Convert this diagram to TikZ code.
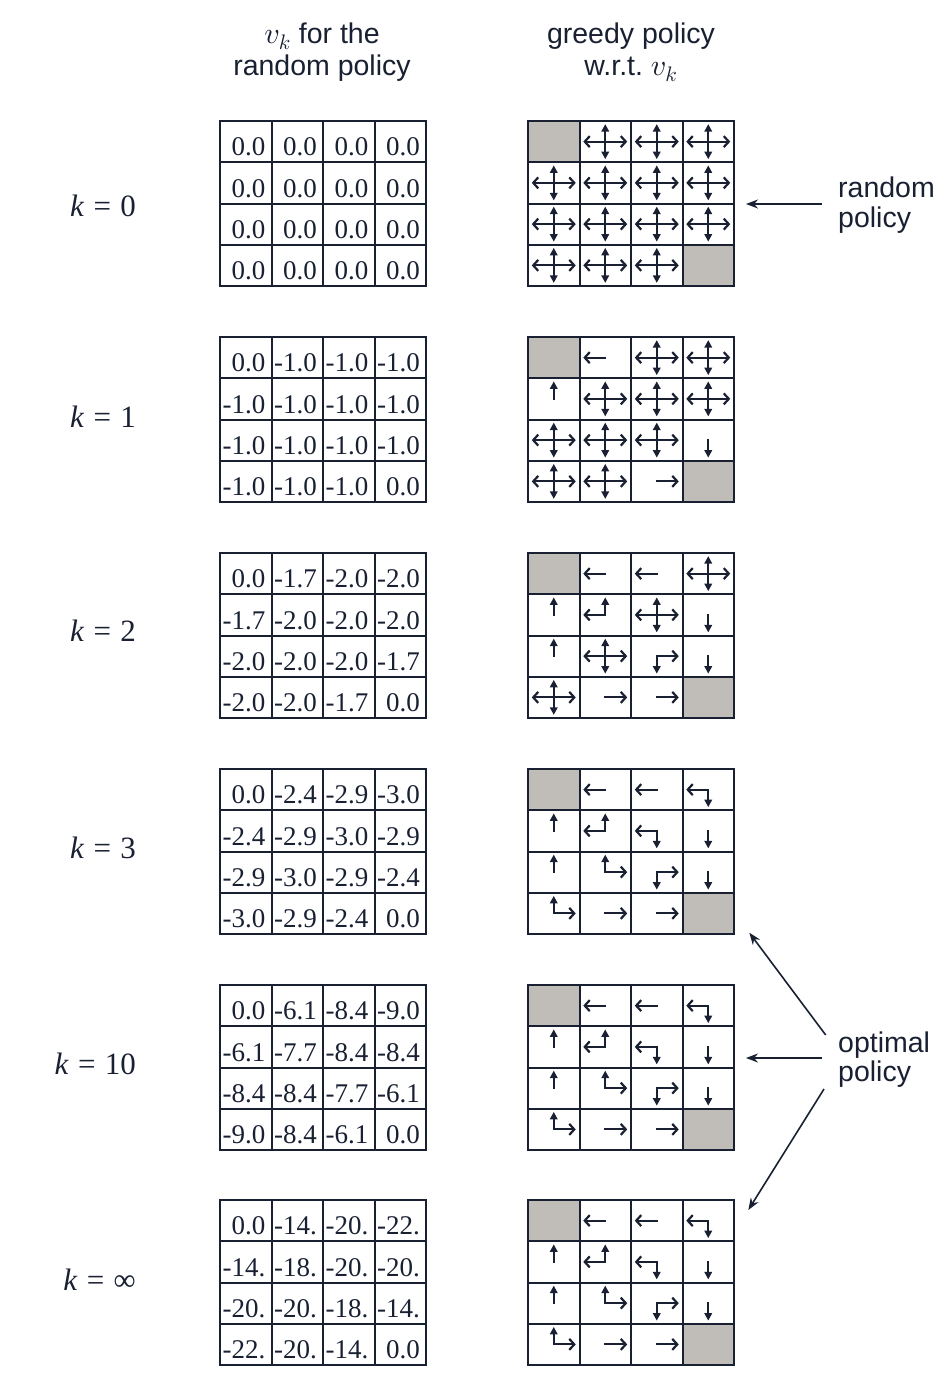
\documentclass[tikz,border=0pt]{standalone}
\usepackage{fontspec}
\setmainfont{Liberation Serif}
\newfontfamily\lsans{Liberation Sans}
\DeclareFontFamily{OML}{cmmx}{\skewchar\font=127}
\DeclareFontShape{OML}{cmmx}{m}{it}{<-> cmmi10}{}
\DeclareSymbolFont{letters}{OML}{cmmx}{m}{it}
\usetikzlibrary{arrows.meta}
\definecolor{ink}{RGB}{24,32,50}
\definecolor{termgray}{RGB}{192,188,184}
\newcommand\cw{51.5}
\newcommand\ch{41.25}
\tikzset{
  gridline/.style={ink, line width=2pt, line cap=rect},
  valtext/.style={anchor=base east, inner sep=0pt, font=\fontsize{27}{31}\selectfont, text=ink},
  harr/.style={ink, line width=2.2pt, line cap=rect, -{Straight Barb[length=5pt,width=11pt]}},
  varr/.style={ink, line width=2.2pt, line cap=rect, -{Triangle[length=7.5pt,width=7.5pt]}},
  klabel/.style={anchor=base east, inner sep=0pt, font=\fontsize{31}{36}\selectfont, text=ink},
  sanslabel/.style={inner sep=0pt, font=\lsans\fontsize{28.5}{33}\selectfont, text=ink},
  callout/.style={ink, line width=1.6pt, -{Stealth[length=12pt,width=9pt]}},
}
\newcommand\vk{{\fontsize{30}{33}\selectfont$v_k$}}
\newcommand\pL{\draw[harr] (\pcx,\pcy) -- ++(-22,0);}
\newcommand\pR{\draw[harr] (\pcx,\pcy) -- ++(22,0);}
\newcommand\pU{\draw[varr] (\pcx,\pcy) -- ++(0,-17.5);}
\newcommand\pD{\draw[varr] (\pcx,\pcy) -- ++(0,17.5);}
\newcommand\pC{\pL\pR\pU\pD}
\newcommand\pG{\fill[termgray] (\pxa,\pya) rectangle ++(\cw,\ch);}
\newcommand\drawgrid[2]{%
  \foreach \j in {0,...,4}{
    \draw[gridline] (#1,{#2+\j*\ch}) -- ++(4*\cw,0);
    \draw[gridline] ({#1+\j*\cw},#2) -- ++(0,4*\ch);
  }}
\newcommand\valgrid[3]{% #1 name, #2 top, #3 values
  \foreach \v [count=\i from 0] in {#3}{
    \pgfmathtruncatemacro\prow{\i/4}
    \pgfmathtruncatemacro\pcol{mod(\i,4)}
    \node[valtext] (val#1-\i) at ({220+(\pcol+1)*\cw-6},{#2+(\prow+1)*\ch-6.5}) {\v};
  }
  \drawgrid{220}{#2}}
\newcommand\polgrid[2]{% #1 top, #2 cell codes
  \foreach \p [count=\i from 0] in {#2}{
    \pgfmathtruncatemacro\prow{\i/4}
    \pgfmathtruncatemacro\pcol{mod(\i,4)}
    \pgfmathsetmacro\pxa{528+\pcol*\cw}
    \pgfmathsetmacro\pya{#1+\prow*\ch}
    \pgfmathsetmacro\pcx{\pxa+\cw/2}
    \pgfmathsetmacro\pcy{\pya+\ch/2}
    \p
  }
  \drawgrid{528}{#1}}
\begin{document}
\begin{tikzpicture}[x=1pt,y=-1pt]
\useasboundingbox (0,0) rectangle (948,1376);
% headers
\node[sanslabel, anchor=base] (h1a) at (322,43) {\vk{} for the};
\node[sanslabel, anchor=base] (h1b) at (322,75) {random policy};
\node[sanslabel, anchor=base] (h2a) at (631,43) {greedy policy};
\node[sanslabel, anchor=base] (h2b) at (631,75) {w.r.t.\ \vk};
% k labels
\node[klabel] (k0) at (136,216) {\textit{k}\kern0.3em=\kern0.3em0};
\node[klabel] (k1) at (136,427) {\textit{k}\kern0.3em=\kern0.3em1};
\node[klabel] (k2) at (136,641) {\textit{k}\kern0.3em=\kern0.3em2};
\node[klabel] (k3) at (136,858) {\textit{k}\kern0.3em=\kern0.3em3};
\node[klabel] (k10) at (136,1074) {\textit{k}\kern0.3em=\kern0.3em10};
\node[klabel] (kinf) at (136,1290) {\textit{k}\kern0.3em=\kern0.3em∞};
% value grids
\valgrid{a}{121}{0.0,0.0,0.0,0.0, 0.0,0.0,0.0,0.0, 0.0,0.0,0.0,0.0, 0.0,0.0,0.0,0.0}
\valgrid{b}{337}{0.0,-1.0,-1.0,-1.0, -1.0,-1.0,-1.0,-1.0, -1.0,-1.0,-1.0,-1.0, -1.0,-1.0,-1.0,0.0}
\valgrid{c}{553}{0.0,-1.7,-2.0,-2.0, -1.7,-2.0,-2.0,-2.0, -2.0,-2.0,-2.0,-1.7, -2.0,-2.0,-1.7,0.0}
\valgrid{d}{769}{0.0,-2.4,-2.9,-3.0, -2.4,-2.9,-3.0,-2.9, -2.9,-3.0,-2.9,-2.4, -3.0,-2.9,-2.4,0.0}
\valgrid{e}{985}{0.0,-6.1,-8.4,-9.0, -6.1,-7.7,-8.4,-8.4, -8.4,-8.4,-7.7,-6.1, -9.0,-8.4,-6.1,0.0}
\valgrid{f}{1200}{0.0,-14.,-20.,-22., -14.,-18.,-20.,-20., -20.,-20.,-18.,-14., -22.,-20.,-14.,0.0}
% policy grids
\polgrid{121}{\pG,\pC,\pC,\pC, \pC,\pC,\pC,\pC, \pC,\pC,\pC,\pC, \pC,\pC,\pC,\pG}
\polgrid{337}{\pG,\pL,\pC,\pC, \pU,\pC,\pC,\pC, \pC,\pC,\pC,\pD, \pC,\pC,\pR,\pG}
\polgrid{553}{\pG,\pL,\pL,\pC, \pU,\pL\pU,\pC,\pD, \pU,\pC,\pR\pD,\pD, \pC,\pR,\pR,\pG}
\polgrid{769}{\pG,\pL,\pL,\pL\pD, \pU,\pL\pU,\pL\pD,\pD, \pU,\pU\pR,\pR\pD,\pD, \pU\pR,\pR,\pR,\pG}
\polgrid{985}{\pG,\pL,\pL,\pL\pD, \pU,\pL\pU,\pL\pD,\pD, \pU,\pU\pR,\pR\pD,\pD, \pU\pR,\pR,\pR,\pG}
\polgrid{1200}{\pG,\pL,\pL,\pL\pD, \pU,\pL\pU,\pL\pD,\pD, \pU,\pU\pR,\pR\pD,\pD, \pU\pR,\pR,\pR,\pG}
% callouts
\node[sanslabel, anchor=base west] (rp1) at (838,197) {random};
\node[sanslabel, anchor=base west] (rp2) at (838,227) {policy};
\coordinate (rpTail) at (822,204);
\coordinate (rpTip) at (746,204);
\draw[callout] (rpTail) -- (rpTip);
\node[sanslabel, anchor=base west] (op1) at (838,1052) {optimal};
\node[sanslabel, anchor=base west] (op2) at (838,1081) {policy};
\coordinate (opTailA) at (825.7,1035);
\coordinate (opTipA) at (749.3,932.7);
\coordinate (opTailB) at (821.7,1058);
\coordinate (opTipB) at (746,1058);
\coordinate (opTailC) at (824,1089);
\coordinate (opTipC) at (748.3,1210);
\draw[callout] (opTailA) -- (opTipA);
\draw[callout] (opTailB) -- (opTipB);
\draw[callout] (opTailC) -- (opTipC);
\end{tikzpicture}
\end{document}
